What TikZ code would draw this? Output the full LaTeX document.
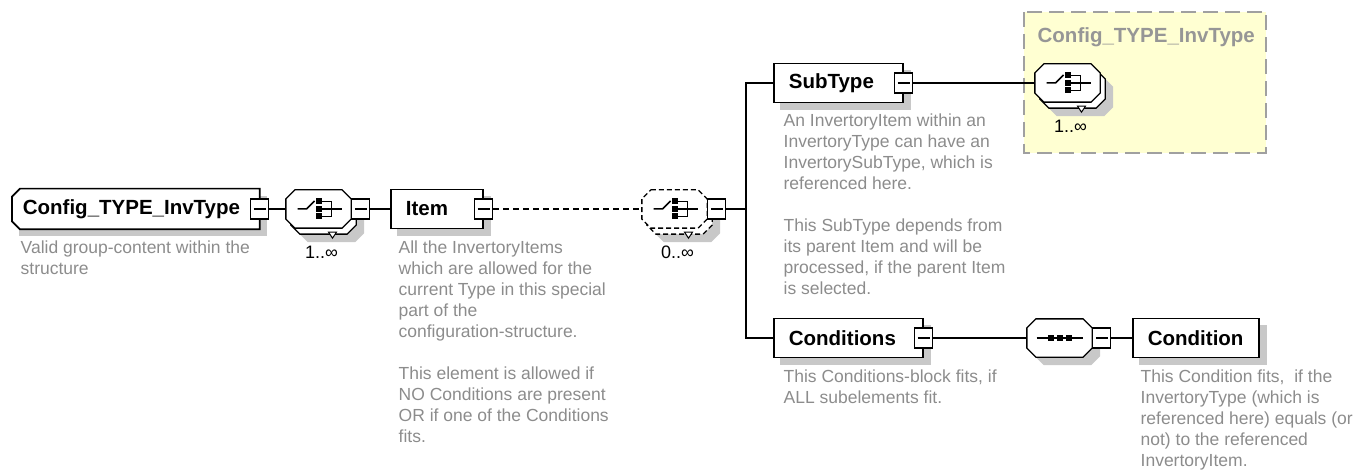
\documentclass[tikz,border=0pt]{standalone}
\usepackage{fontspec}
\setmainfont{Liberation Sans}
\usetikzlibrary{positioning,backgrounds}
\definecolor{shadegray}{RGB}{200,200,200}
\definecolor{desctext}{RGB}{140,140,140}
\definecolor{refbg}{RGB}{255,255,210}
\definecolor{refline}{RGB}{160,160,160}
\definecolor{reftext}{RGB}{150,150,150}
\newcommand{\octpath}[2]{([shift={(#2)},xshift=9pt]#1.north west)
  -- ([shift={(#2)},xshift=-9pt]#1.north east)
  -- ([shift={(#2)},yshift=-9pt]#1.north east)
  -- ([shift={(#2)},yshift=9pt]#1.south east)
  -- ([shift={(#2)},xshift=-9pt]#1.south east)
  -- ([shift={(#2)},xshift=9pt]#1.south west)
  -- ([shift={(#2)},yshift=9pt]#1.south west)
  -- ([shift={(#2)},yshift=-9pt]#1.north west) -- cycle}
\newcommand{\choiceicon}[1]{%
  \begin{scope}[shift={(#1.center)}, line width=1.5pt]
    \draw (-21,0) -- (-12,0) -- (-4,-8);
    \foreach \dy in {-7.5,0,7.5}
      \fill (-3,\dy-3) rectangle (3,\dy+3);
    \draw (3,-7.5) -- (13,-7.5) -- (13,7.5) -- (3,7.5);
    \draw (3,0) -- (23,0);
  \end{scope}}
\newcommand{\seqicon}[1]{%
  \begin{scope}[shift={(#1.center)}, line width=1.5pt]
    \draw (-23,0) -- (23,0);
    \foreach \dx in {-9,0,9}
      \fill (\dx-3,-3) rectangle (\dx+3,3);
  \end{scope}}
\newcommand{\occtick}[1]{%
  \filldraw[fill=white, line width=1pt] ([shift={(10,4)}]#1.south)
    -- ([shift={(18,4)}]#1.south) -- ([shift={(14,10)}]#1.south) -- cycle;}
\tikzset{
  elem/.style={draw, fill=white, line width=1.7pt, minimum height=39pt,
               inner xsep=15pt, inner ysep=0pt, align=left, anchor=west,
               font=\fontsize{20.5}{24}\selectfont\bfseries},
  minus/.style={draw, fill=white, line width=1.3pt, minimum width=18pt,
                minimum height=20pt, inner sep=0pt,
                path picture={\draw[line width=1.2pt]
                  ([xshift=3pt]path picture bounding box.west) --
                  ([xshift=-3pt]path picture bounding box.east);}},
  comp/.style={minimum width=64pt, minimum height=37pt, inner sep=0pt},
  octo/.style={fill=white, draw, line width=1.3pt},
  dashocto/.style={octo, dash pattern=on 5pt off 3pt},
  occurs/.style={inner sep=0pt, font=\fontsize{18}{21}\selectfont},
  desc/.style={anchor=north west, inner sep=0pt, align=left, text=desctext,
               font=\fontsize{17.5}{21}\selectfont},
  refbox/.style={fill=refbg, draw=refline, line width=2pt,
                 dash pattern=on 15pt off 7pt},
  refname/.style={anchor=west, inner sep=0pt, text=reftext,
                  font=\fontsize{20.5}{24}\selectfont\bfseries},
  dashline/.style={dash pattern=on 6pt off 4pt},
}
\begin{document}
\begin{tikzpicture}[x=1pt, y=-1pt, line width=1.3pt]
\useasboundingbox (0,0) rectangle (1356,470);

\draw[refbox] (1024,12) rectangle (1266,153);
\node[refname] (refname) at (1037,37) {Config\_TYPE\_InvType};

\node[elem, draw=none, fill=none, inner xsep=10pt, text width=226pt] (root)
  at (12,209) {Config\_TYPE\_InvType};
\node[elem, text width=62pt] (item) at (390,209) {Item};
\node[elem, text width=99pt] (subtype) at (773,83) {SubType};
\node[elem, text width=119pt] (conds) at (773,338) {Conditions};
\node[elem, text width=96pt] (cond) at (1132,338) {Condition};

\node[minus] (rootm) at (root.east) {};
\node[minus] (itemm) at (item.east) {};
\node[minus] (subtypem) at (subtype.east) {};
\node[minus] (condsm) at (conds.east) {};

% compositors
\node[comp] (c1) at (318.5,209) {};
\node[comp] (c2) at (674.5,209) {};
\node[comp] (c3) at (1067.5,83) {};
\node[comp] (c4) at (1059.5,338) {};

\fill[shadegray] \octpath{c1}{13,14};
\filldraw[octo] \octpath{c1}{5,6};
\occtick{c1}
\filldraw[octo] \octpath{c1}{0,0};
\choiceicon{c1}
\node[minus, right=0pt of c1] (c1m) {};
\node[occurs] (c1n) at ([shift={(3,24)}]c1.south) {1..∞};

\fill[shadegray] \octpath{c2}{13,14};
\filldraw[dashocto] \octpath{c2}{5,6};
\occtick{c2}
\filldraw[dashocto] \octpath{c2}{0,0};
\choiceicon{c2}
\node[minus, right=0pt of c2] (c2m) {};
\node[occurs] (c2n) at ([shift={(3,24)}]c2.south) {0..∞};

\fill[shadegray] \octpath{c3}{13,14};
\filldraw[octo] \octpath{c3}{5,6};
\occtick{c3}
\filldraw[octo] \octpath{c3}{0,0};
\choiceicon{c3}
\node[occurs] (c3n) at ([shift={(3,24)}]c3.south) {1..∞};

\fill[shadegray] \octpath{c4}{8,8};
\filldraw[octo] \octpath{c4}{0,0};
\seqicon{c4}
\node[minus, right=0pt of c4] (c4m) {};

\coordinate (bus) at (746,209);
\draw (rootm.east) -- (c1.west);
\draw (c1m.east) -- (item.west);
\draw[dashline] (itemm.east) -- (c2.west);
\draw (c2m.east) -- (bus);
\draw (subtype.west) -| (bus) |- (conds.west);
\draw (subtypem.east) -- (c3.west);
\draw (condsm.east) -- (c4.west);
\draw (c4m.east) -- (cond.west);

\node[desc] (rootd) at ([shift={(8,11)}]root.south west)
  {Valid group-content within the\\structure};
\node[desc] (itemd) at ([shift={(8,11)}]item.south west)
  {All the InvertoryItems\\which are allowed for the\\current Type in this special\\
   part of the\\configuration-structure.\\[21pt]This element is allowed if\\
   NO Conditions are present\\OR if one of the Conditions\\fits.};
\node[desc] (subtyped) at ([shift={(10,10)}]subtype.south west)
  {An InvertoryItem within an\\InvertoryType can have an\\
   InvertorySubType, which is\\referenced here.\\[21pt]This SubType depends from\\
   its parent Item and will be\\processed, if the parent Item\\is selected.};
\node[desc] (condsd) at ([shift={(10,11)}]conds.south west)
  {This Conditions-block fits, if\\ALL subelements fit.};
\node[desc] (condd) at ([shift={(8,11)}]cond.south west)
  {This Condition fits,\ \ if the\\InvertoryType (which is\\
   referenced here) equals (or\\not) to the referenced\\InvertoryItem.};

\begin{scope}[on background layer]
  \foreach \n in {root,item,subtype,conds,cond}
    \fill[shadegray] ([shift={(7,7)}]\n.north west) rectangle ([shift={(7,7)}]\n.south east);
  \filldraw[fill=white, line width=1.7pt] ([xshift=8pt]root.north west)
    -- (root.north east) -- (root.south east) -- ([xshift=8pt]root.south west)
    -- ([yshift=8pt]root.south west) -- ([yshift=-8pt]root.north west) -- cycle;
\end{scope}

\end{tikzpicture}
\end{document}
